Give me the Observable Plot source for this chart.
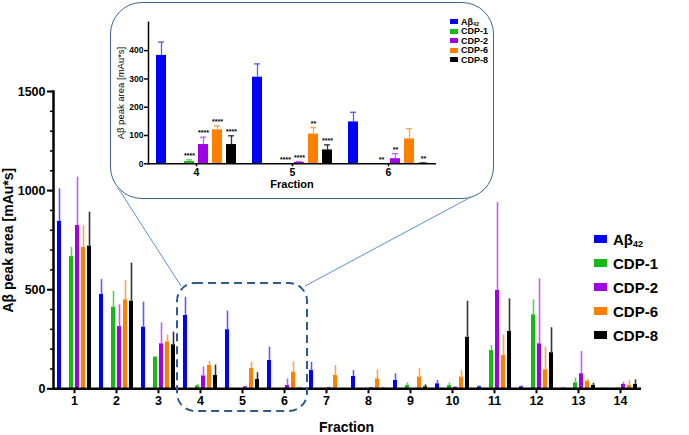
<!DOCTYPE html>
<html><head><meta charset="utf-8">
<script src="https://cdn.jsdelivr.net/npm/d3@7"></script>
<script src="https://cdn.jsdelivr.net/npm/@observablehq/plot@0.6"></script>
<style>
body{margin:0;background:#fff;font-family:"Liberation Sans",Arial,sans-serif;}
#wrap{position:relative;width:689px;height:435px;overflow:hidden;background:#fff}
#main{position:absolute;left:0;top:0}
#deco{position:absolute;left:0;top:0;pointer-events:none}
#inset{position:absolute;left:110px;top:2px;width:384px;height:197px;background:#fff;border-radius:32px}
#insetBorder{position:absolute;left:110px;top:2px;width:384px;height:197px;box-sizing:border-box;border:1.5px solid #3d6496;border-radius:32px;pointer-events:none}
.lab{position:absolute;font-weight:bold;color:#000;white-space:nowrap}
.leg{position:absolute;font-weight:bold;color:#000}
.leg .row{display:flex;align-items:center;white-space:nowrap}
.leg .sw{display:inline-block}
sub{font-size:0.6em;vertical-align:-0.25em;line-height:0}
</style></head>
<body>
<div id="wrap">
  <div id="main"></div>
  <svg id="deco" width="689" height="435"></svg>
  <div id="inset"></div>
  <div id="insetBorder"></div>
  <div class="lab" id="xlab" style="left:0;width:689px;text-align:center;padding-left:4px;box-sizing:border-box;top:419px;font-size:14px;">Fraction</div>
  <div class="leg" id="legMain" style="left:594px;top:227px;font-size:15px;"></div>
  <div class="leg" id="legInset" style="left:450px;top:17px;font-size:9px;"></div>
</div>
<script>
// ---------- data ----------
const fractions = [1,2,3,4,5,6,7,8,9,10,11,12,13,14];
const seriesNames = ["Aβ42","CDP-1","CDP-2","CDP-6","CDP-8"];
const seriesLabels = ["Aβ<sub>42</sub>","CDP-1","CDP-2","CDP-6","CDP-8"];
const seriesColors = ["#0000ff","#19b819","#a000e6","#ff8000","#000000"];
const errColors = ["#5a5aff","#5fd05f","#c060f0","#ffa550","#333333"];

// main chart: mean values
const abeta = [845,476,311,370,298,143,92,62,42,25,10,10,3,2];
const cdp1  = [667,412,160,15,0,0,0,0,17,17,193,373,30,3];
const cdp2  = [824,314,227,65,10,17,5,5,0,8,496,227,76,22];
const cdp6  = [714,449,237,118,102,84,67,50,59,59,168,96,38,17];
const cdp8  = [720,442,222,67,47,3,0,3,10,260,289,182,17,22];
// main chart: error (SD, upward)
const abetaSd = [164,75,126,92,94,67,42,30,34,17,5,5,2,1];
const cdp1Sd  = [47,80,3,7,0,0,0,0,13,13,25,76,25,2];
const cdp2Sd  = [244,110,106,45,4,33,3,3,0,2,444,328,112,11];
const cdp6Sd  = [108,97,35,20,32,52,51,46,42,33,104,114,12,25];
const cdp8Sd  = [171,192,64,53,34,2,0,2,10,182,165,126,11,23];

// inset (fractions 4-6)
const insetFractions = [4,5,6];
const inAbeta = [383,306,148], inAbetaSd = [47,47,34];
const inCdp1 = [8,0,0],        inCdp1Sd = [6,0,0];
const inCdp2 = [68,5,18],      inCdp2Sd = [26,3,18];
const inCdp6 = [120,105,88],   inCdp6Sd = [14,23,36];
const inCdp8 = [68,49,2],      inCdp8Sd = [31,18,1];
const inSig = [["","",""],["****","****","**"],["****","****","**"],["****","**",""],["****","****","**"]];

const mainTicksMajor = [0,500,1000,1500];
const insetTicks = [0,100,200,300,400];

// ---------- tidy tables ----------
const slots = ["Aβ42","gap","CDP-1","CDP-2","CDP-6","CDP-8"];
const mainVals = [abeta,cdp1,cdp2,cdp6,cdp8];
const mainSds = [abetaSd,cdp1Sd,cdp2Sd,cdp6Sd,cdp8Sd];
const rows = [];
seriesNames.forEach((s,i)=>fractions.forEach((f,j)=>rows.push({fraction:f,series:s,value:mainVals[i][j],sd:mainSds[i][j]})));
const inVals = [inAbeta,inCdp1,inCdp2,inCdp6,inCdp8];
const inSds = [inAbetaSd,inCdp1Sd,inCdp2Sd,inCdp6Sd,inCdp8Sd];
const inRows = [];
seriesNames.forEach((s,i)=>insetFractions.forEach((f,j)=>inRows.push({fraction:f,series:s,value:inVals[i][j],sd:inSds[i][j],sig:inSig[i][j]})));

const FONT = "Liberation Sans, Arial, sans-serif";
const plain = d3.format("d");

// ---------- main chart ----------
const main = Plot.plot({
  width: 689, height: 435,
  marginLeft: 52, marginRight: 48, marginTop: 91, marginBottom: 46.7,
  style: {fontFamily: FONT, background: "transparent", color: "#000"},
  fx: {domain: fractions, padding: 0, axis: null, label: null},
  x: {domain: slots, paddingInner: 0.375, paddingOuter: 0.474, axis: null},
  y: {domain: [0,1500], axis: null},
  color: {domain: seriesNames, range: seriesColors},
  marks: [
    Plot.barY(rows, {fx:"fraction", x:"series", y:"value", fill:"series"}),
    Plot.ruleX(rows.filter(d=>d.sd>0), {fx:"fraction", x:"series", y1:"value", y2:d=>d.value+d.sd,
      stroke:d=>errColors[seriesNames.indexOf(d.series)], strokeWidth:1.6}),
    Plot.ruleY([0], {stroke:"#000", strokeWidth:2.5}),
    Plot.frame({anchor:"left", facetAnchor:"left", stroke:"#000", strokeWidth:2.5}),
    Plot.axisY({ticks: d3.range(0,1501,100), tickSize:3, strokeWidth:1.5, tickFormat:()=>"", label:null}),
    Plot.axisY({ticks: mainTicksMajor, tickFormat: plain, tickSize:6, tickPadding:2, strokeWidth:2, fontSize:12.5, fontWeight:"bold", label:null}),
    Plot.axisY({ticks: [], label:"Aβ peak area [mAu*s]", labelAnchor:"center", labelArrow:"none", labelOffset:50, fontSize:14, fontWeight:"bold"}),
    Plot.axisFx({anchor:"bottom", tickSize:5, tickPadding:2, strokeWidth:2, fontSize:12.5, fontWeight:"bold", label:null})
  ]
});
document.getElementById("main").append(main);

// ---------- inset chart ----------
const inset = Plot.plot({
  width: 384, height: 197,
  marginLeft: 37, marginRight: 57, marginTop: 19.8, marginBottom: 35.7,
  style: {fontFamily: FONT, background: "transparent", color: "#000"},
  fx: {domain: insetFractions, padding: 0, axis: null, label: null},
  x: {domain: slots, paddingInner: 0.315, paddingOuter: 0.48, axis: null},
  y: {domain: [0,500], axis: null},
  color: {domain: seriesNames, range: seriesColors},
  marks: [
    Plot.barY(inRows, {fx:"fraction", x:"series", y:"value", fill:"series"}),
    Plot.ruleX(inRows.filter(d=>d.sd>0), {fx:"fraction", x:"series", y1:"value", y2:d=>d.value+d.sd,
      stroke:d=>errColors[seriesNames.indexOf(d.series)], strokeWidth:1.3}),
    Plot.tickY(inRows.filter(d=>d.sd>0), {fx:"fraction", x:"series", y:d=>d.value+d.sd, insetLeft:2, insetRight:2,
      stroke:d=>errColors[seriesNames.indexOf(d.series)], strokeWidth:1.3}),
    Plot.text(inRows.filter(d=>d.sig), {fx:"fraction", x:"series", y:d=>d.value+d.sd, text:"sig", dy:-4, fontSize:7, fontWeight:"bold", fill:"#000"}),
    Plot.ruleY([0], {stroke:"#000", strokeWidth:1.5}),
    Plot.frame({anchor:"left", facetAnchor:"left", stroke:"#000", strokeWidth:1.5}),
    Plot.axisY({ticks: insetTicks, tickFormat: plain, tickSize:4, tickPadding:1, strokeWidth:1.5, fontSize:8.5, fontWeight:"bold", label:null}),
    Plot.axisY({ticks: [], label:"Aβ peak area [mAu*s]", labelAnchor:"center", labelArrow:"none", labelOffset:31, fontSize:9.5}),
    Plot.axisFx({anchor:"bottom", tickSize:3, tickPadding:2, strokeWidth:1.5, fontSize:10.5, fontWeight:"bold", label:null})
  ]
});
document.getElementById("inset").append(inset);
const inLab = document.createElement("div");
inLab.className = "lab";
inLab.style.cssText = "left:37px;width:290px;text-align:center;top:176px;font-size:11px;";
inLab.textContent = "Fraction";
document.getElementById("inset").append(inLab);

// ---------- legends ----------
function legend(el, sw, gap, rowH) {
  seriesNames.forEach((s,i)=>{
    const r = document.createElement("div"); r.className="row"; r.style.height=rowH+"px";
    const b = document.createElement("span"); b.className="sw";
    b.style.cssText=`width:${sw[0]}px;height:${sw[1]}px;background:${seriesColors[i]};margin-right:${gap}px`;
    const t = document.createElement("span"); t.innerHTML = seriesLabels[i];
    r.append(b,t); el.append(r);
  });
}
legend(document.getElementById("legMain"), [13,8], 6, 24);
legend(document.getElementById("legInset"), [8,5], 3, 9.5);

// ---------- zoom annotation ----------
const deco = d3.select("#deco");
deco.append("rect").attr("x",177).attr("y",283).attr("width",130).attr("height",128).attr("rx",18)
  .attr("fill","none").attr("stroke","#2f5b8f").attr("stroke-width",2).attr("stroke-dasharray","8 5");
deco.append("line").attr("x1",118).attr("y1",188).attr("x2",181).attr("y2",286).attr("stroke","#5b8fd9").attr("stroke-width",1);
deco.append("line").attr("x1",484).attr("y1",190).attr("x2",305).attr("y2",286).attr("stroke","#5b8fd9").attr("stroke-width",1);
</script>
</body></html>
